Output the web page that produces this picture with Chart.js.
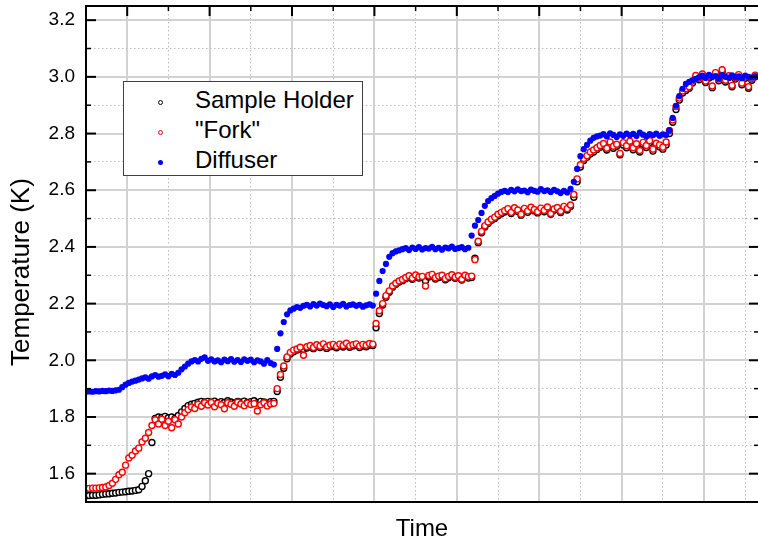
<!DOCTYPE html>
<html>
<head>
<meta charset="utf-8">
<script src="https://cdn.jsdelivr.net/npm/chart.js@4/dist/chart.umd.min.js"></script>
<style>
  html, body { margin: 0; padding: 0; background: #ffffff; overflow: hidden; }
  #wrap { position: relative; width: 758px; height: 544px; overflow: hidden; }
  canvas { display: block; }
  #legend {
    position: absolute; left: 123px; top: 81px; width: 238px; height: 93px;
    border: 1px solid #404040; background: #ffffff;
    font-family: "Liberation Sans", Arial, sans-serif; font-size: 24px; color: #000;
  }
  .row { position: absolute; left: 0; width: 238px; height: 30px; line-height: 30px; white-space: nowrap; }
  .mk { position: absolute; left: 34px; top: 15px; width: 5px; height: 5px; border-radius: 50%; box-sizing: border-box; }
  .lbl { position: absolute; left: 71px; top: 0; }
</style>
</head>
<body>
<div id="wrap">
  <canvas id="c" width="758" height="544"></canvas>
  <div id="legend"></div>
</div>
<script>
// ---------------- data ----------------
const seriesNames = ['Sample Holder', '"Fork"', 'Diffuser'];
const timeStep = 0.4;            // uniform sampling interval (arbitrary time units)

const sampleHolder = [
  1.522,1.523,1.524,1.524,1.525,1.527,1.528,1.529,1.531,1.532,1.534,
  1.535,1.536,1.538,1.539,1.541,1.543,1.555,1.575,1.600,
  1.710,1.795,1.800,1.798,1.802,1.797,1.800,1.795,1.805,1.818,1.830,
  1.840,1.845,1.848,1.852,1.855,1.853,
  1.855,1.852,1.856,1.850,1.854,1.851,1.857,1.853,1.849,1.855,1.852,1.856,1.851,1.854,1.857,1.850,1.855,1.853,1.848,1.854,
  1.855,
  1.890,1.940,1.972,2.005,2.022,2.030,2.036,2.040,2.038,
  2.043,2.047,2.041,2.050,2.045,2.052,2.042,2.048,2.050,2.044,2.052,2.047,2.054,2.046,2.050,2.053,2.045,2.051,2.048,2.054,2.052,
  2.115,2.165,2.195,2.222,2.240,2.258,2.268,2.276,2.281,2.288,
  2.293,2.286,2.296,2.290,2.292,2.280,2.294,2.298,2.287,2.292,2.295,2.284,2.291,2.297,2.289,2.293,2.283,2.295,2.290,2.292,
  2.360,2.415,2.450,2.470,2.483,2.494,2.500,2.510,2.517,
  2.523,2.530,2.518,2.533,2.525,2.512,2.531,2.522,2.535,2.527,2.520,2.532,2.524,2.536,2.515,2.529,2.534,2.521,2.538,2.530,2.543,
  2.575,2.630,2.682,2.705,2.716,2.728,2.735,2.744,
  2.752,2.758,2.742,2.763,2.748,2.755,2.725,2.760,2.750,2.766,2.743,2.757,2.735,2.762,2.751,2.768,2.738,2.759,2.753,2.745,2.760,
  2.800,2.840,2.885,2.918,2.943,2.952,2.960,2.978,2.998,
  2.990,3.003,2.980,2.996,2.962,3.008,2.986,3.018,2.982,2.998,2.965,2.992,3.002,2.972,2.995,2.960,2.988,3.000
];

const fork = [
  1.548,1.548,1.549,1.549,1.550,1.551,1.553,1.558,1.566,1.580,1.596,
  1.605,1.630,1.655,1.665,1.680,1.690,1.712,1.725,1.745,1.770,
  1.790,1.775,1.792,1.770,1.785,1.762,1.790,1.775,1.800,1.815,
  1.826,1.835,1.830,1.845,1.838,1.850,
  1.842,1.851,1.836,1.848,1.843,1.829,1.850,1.845,1.838,1.852,1.846,1.840,1.849,1.844,1.847,1.821,1.843,1.850,1.839,1.846,
  1.848,
  1.900,1.950,1.980,2.012,2.028,2.036,2.040,2.046,2.018,
  2.048,2.052,2.045,2.055,2.050,2.058,2.047,2.053,2.056,2.049,2.057,2.052,2.060,2.051,2.055,2.058,2.050,2.056,2.053,2.059,2.057,
  2.130,2.175,2.200,2.228,2.245,2.262,2.272,2.280,2.285,2.292,
  2.298,2.290,2.301,2.294,2.296,2.262,2.299,2.303,2.291,2.297,2.300,2.288,2.296,2.302,2.293,2.298,2.286,2.300,2.295,2.297,
  2.355,2.420,2.455,2.475,2.488,2.498,2.505,2.515,2.522,
  2.528,2.535,2.522,2.538,2.530,2.515,2.536,2.527,2.540,2.532,2.524,2.537,2.529,2.541,2.518,2.534,2.539,2.526,2.543,2.535,2.548,
  2.585,2.640,2.690,2.712,2.722,2.735,2.742,2.750,
  2.758,2.765,2.748,2.770,2.755,2.762,2.730,2.768,2.757,2.773,2.750,2.764,2.740,2.769,2.758,2.775,2.745,2.766,2.760,2.752,2.770,
  2.810,2.848,2.895,2.925,2.950,2.958,2.965,2.985,3.005,
  2.995,3.010,2.985,3.002,2.968,3.015,2.992,3.025,2.988,3.004,2.970,2.998,3.008,2.978,3.000,2.965,2.993,3.006
];

const diffuser = [
  1.889,1.890,1.889,1.891,1.890,1.892,1.891,1.893,1.892,1.894,1.896,
  1.905,1.914,1.920,1.925,1.928,1.932,1.936,1.940,1.935,1.943,
  1.948,1.942,1.945,1.950,1.944,1.952,1.948,1.956,1.968,1.978,
  1.988,1.996,2.001,1.996,2.005,2.010,
  1.998,2.003,1.996,2.000,1.993,2.002,1.997,2.004,1.995,2.001,1.994,2.003,1.998,2.002,1.993,2.000,1.996,1.988,2.001,1.990,
  1.985,
  2.040,2.095,2.135,2.162,2.176,2.182,2.188,2.185,2.192,
  2.196,2.190,2.198,2.193,2.200,2.195,2.191,2.197,2.188,2.196,2.193,2.199,2.190,2.195,2.197,2.192,2.196,2.189,2.194,2.197,2.193,
  2.235,2.280,2.315,2.340,2.365,2.378,2.384,2.388,
  2.392,2.396,2.389,2.398,2.393,2.399,2.391,2.396,2.394,2.400,2.392,2.397,2.390,2.398,2.395,2.401,2.393,2.396,2.399,2.392,2.397,2.440,
  2.475,2.495,2.520,2.545,2.562,2.572,2.580,2.588,2.594,
  2.598,2.594,2.601,2.596,2.603,2.597,2.599,2.593,2.602,2.598,2.595,2.604,2.597,2.600,2.594,2.601,2.596,2.590,2.598,2.592,
  2.605,2.630,2.675,2.720,2.745,2.760,2.775,2.785,2.790,
  2.793,2.798,2.790,2.801,2.795,2.788,2.797,2.792,2.800,2.794,2.799,2.791,2.803,2.796,2.790,2.798,2.794,2.800,2.792,2.797,2.795,
  2.812,2.855,2.898,2.932,2.958,2.975,2.982,2.988,2.993,
  2.998,3.004,2.996,3.007,2.999,3.003,2.994,3.006,3.000,2.997,3.005,2.999,3.002,2.995,3.004,3.000,2.997,3.003
];

// axis ticks
const yMajorTicks = [1.6, 1.8, 2.0, 2.2, 2.4, 2.6, 2.8, 3.0, 3.2];
const yMinorTicks = [1.5, 1.7, 1.9, 2.1, 2.3, 2.5, 2.7, 2.9, 3.1];
const xMajorGrid = [5, 15, 25, 35, 45, 55, 65, 75];
const xMinorGrid = [10, 20, 30, 40, 50, 60, 70, 80];
const yRange = [1.5, 3.25];
const xRange = [0, 81.55];

// ---------------- helpers ----------------
const yTickValues = yMajorTicks.concat(yMinorTicks).sort((a, b) => a - b);
const xTickValues = xMajorGrid.concat(xMinorGrid).sort((a, b) => a - b);
const isMajorY = v => yMajorTicks.some(m => Math.abs(m - v) < 1e-6);
const isMajorX = v => xMajorGrid.some(m => Math.abs(m - v) < 1e-6);
const toPoints = arr => arr.map((y, i) => ({ x: i * timeStep, y: y }));

const FONT = "'Liberation Sans', Arial, sans-serif";
const MAJOR_GRID = '#d2d2d2';
const MINOR_GRID = '#bdbdbd';

const frame = {
  id: 'frame',
  afterDatasetsDraw(chart) {
    const { ctx, chartArea: a, scales } = chart;
    const x = scales.x, y = scales.y;
    const W = a.right;
    ctx.save();
    ctx.strokeStyle = '#000';
    ctx.lineCap = 'butt';
    const line = (x1, y1, x2, y2, w) => {
      ctx.lineWidth = w; ctx.beginPath(); ctx.moveTo(x1, y1); ctx.lineTo(x2, y2); ctx.stroke();
    };
    yTickValues.forEach(v => {
      const py = y.getPixelForValue(v);
      if (py <= a.top + 1 || py >= a.bottom - 1) return;
      const maj = isMajorY(v);
      line(a.left, py, a.left + (maj ? 10 : 5), py, maj ? 2 : 1.5);
      line(W - (maj ? 9 : 4), py, W, py, maj ? 2 : 1.5);
    });
    xTickValues.forEach(v => {
      const px = x.getPixelForValue(v);
      if (px <= a.left + 1 || px >= W - 1) return;
      const maj = isMajorX(v);
      line(px, a.top, px, a.top + (maj ? 10 : 5), maj ? 2 : 1.5);
    });
    // axes frame: left, top and bottom (right side lies at the picture edge)
    line(a.left, a.top - 1, a.left, a.bottom + 1, 2);
    line(a.left - 1, a.top, W, a.top, 2);
    line(a.left - 1, a.bottom, W, a.bottom, 2);
    ctx.restore();
  }
};

const openPoint = color => ({
  pointStyle: 'circle', pointRadius: 3, pointBorderWidth: 1.4,
  borderColor: color, backgroundColor: '#ffffff',
  pointBorderColor: color, pointBackgroundColor: '#ffffff'
});

new Chart(document.getElementById('c'), {
  type: 'scatter',
  data: {
    datasets: [
      Object.assign({ label: seriesNames[0], data: toPoints(sampleHolder), order: 2 }, openPoint('#000000')),
      Object.assign({ label: seriesNames[1], data: toPoints(fork), order: 1 }, openPoint('#ff0000')),
      { label: seriesNames[2], data: toPoints(diffuser), order: 0,
        pointStyle: 'circle', pointRadius: 3.1, pointBorderWidth: 0,
        borderColor: '#0000ff', backgroundColor: '#0000ff',
        pointBorderColor: '#0000ff', pointBackgroundColor: '#0000ff' }
    ]
  },
  options: {
    responsive: false,
    animation: false,
    events: [],
    layout: { autoPadding: false, padding: { top: 6, left: 0, right: 0, bottom: 0 } },
    plugins: { legend: { display: false }, tooltip: { enabled: false } },
    scales: {
      x: {
        type: 'linear', position: 'bottom', min: xRange[0], max: xRange[1],
        afterBuildTicks: s => { s.ticks = xTickValues.map(v => ({ value: v })); },
        afterFit: s => { s.height = 42; s.paddingLeft = 0; s.paddingRight = 0; },
        ticks: { display: false, autoSkip: false },
        border: {
          display: false,
          dash: c => (c.tick && !isMajorX(c.tick.value)) ? [1.5, 2.5] : []
        },
        grid: {
          drawTicks: false,
          color: c => (c.tick && isMajorX(c.tick.value)) ? MAJOR_GRID : MINOR_GRID,
          lineWidth: c => (c.tick && isMajorX(c.tick.value)) ? 2 : 1
        },
        title: {
          display: true, text: 'Time', color: '#000',
          font: { family: FONT, size: 24 }, padding: { top: 0, bottom: 0 }
        }
      },
      y: {
        type: 'linear', position: 'left', min: yRange[0], max: yRange[1],
        afterBuildTicks: s => { s.ticks = yTickValues.map(v => ({ value: v })); },
        afterFit: s => { s.width = 86; s.paddingTop = 0; s.paddingBottom = 0; },
        ticks: {
          autoSkip: false, padding: 11, color: '#000',
          font: { family: FONT, size: 19 },
          callback: v => isMajorY(v) ? Number(v).toFixed(1) : ''
        },
        border: {
          display: false,
          dash: c => (c.tick && !isMajorY(c.tick.value)) ? [1.5, 2.5] : []
        },
        grid: {
          drawTicks: false,
          color: c => (c.tick && isMajorY(c.tick.value)) ? MAJOR_GRID : MINOR_GRID,
          lineWidth: c => (c.tick && isMajorY(c.tick.value)) ? 2 : 1
        },
        title: {
          display: true, text: 'Temperature (K)     ', color: '#000',
          font: { family: FONT, size: 26 }, padding: { top: 6, bottom: 0 }
        }
      }
    }
  },
  plugins: [frame]
});

// legend (HTML, built from the series names)
const legendStyles = [
  { border: '1px solid #000000', bg: '#ffffff' },
  { border: '1px solid #ff0000', bg: '#ffffff' },
  { border: 'none', bg: '#0000ff' }
];
const rowTops = [3, 33, 63];
const legend = document.getElementById('legend');
seriesNames.forEach((name, i) => {
  const row = document.createElement('div');
  row.className = 'row';
  row.style.top = rowTops[i] + 'px';
  const mk = document.createElement('span');
  mk.className = 'mk';
  mk.style.border = legendStyles[i].border;
  mk.style.background = legendStyles[i].bg;
  const lbl = document.createElement('span');
  lbl.className = 'lbl';
  lbl.textContent = name;
  row.appendChild(mk); row.appendChild(lbl);
  legend.appendChild(row);
});
</script>
</body>
</html>
